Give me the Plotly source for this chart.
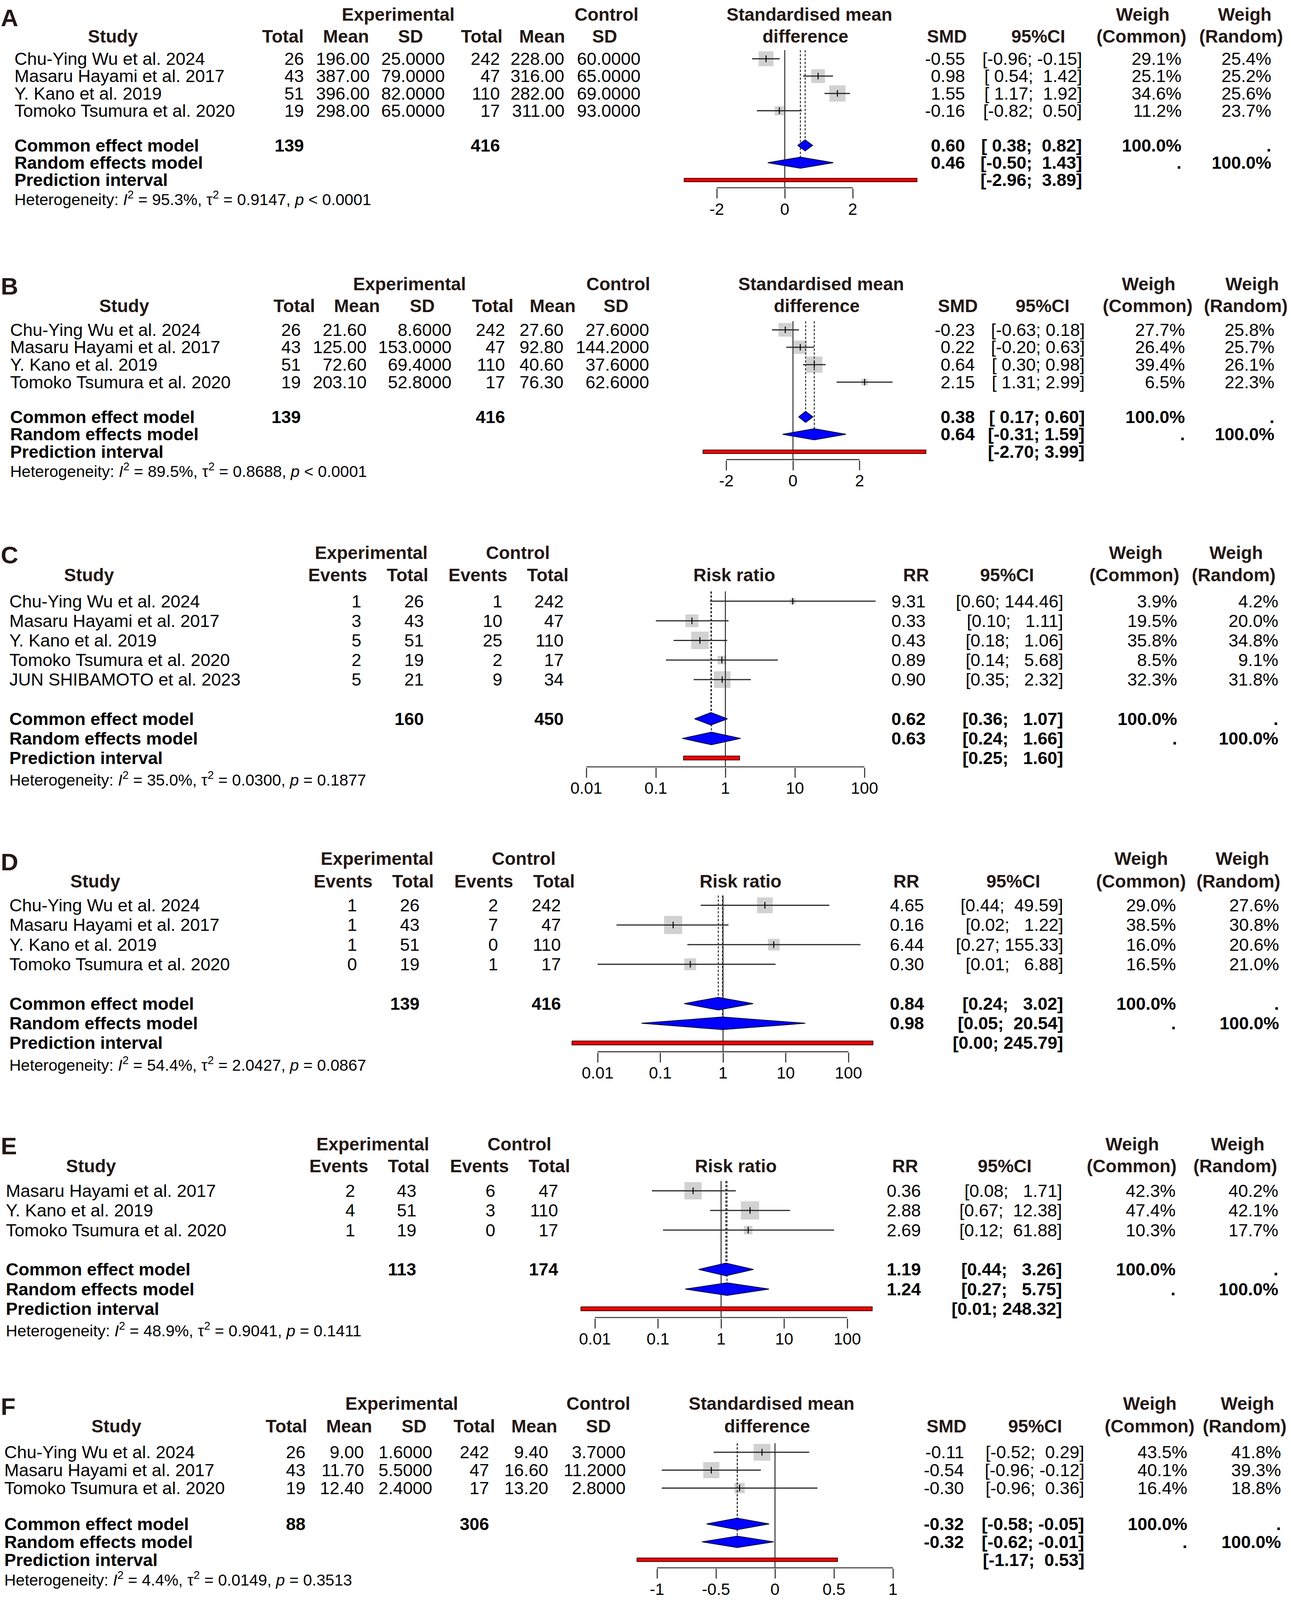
import math
import plotly.graph_objects as go

# The reference is 3305 x 5291; the browser viewport here is capped at 4096 px tall,
# so the figure keeps the reference's horizontal layout and is laid out on a
# 4096-px-tall canvas (all vertical placements are kept as fractions of the page).
W, REF_H = 3305, 5291
FIG_H = 4096
TOP_PAD = 16
BOTTOM_PAD = 14
SY = (FIG_H - TOP_PAD - BOTTOM_PAD) / REF_H

NB = "\u00a0"
FONT = "Liberation Sans"
INK = "#000000"
HEAD = "#231815"
LINEC = "#2b2b2b"
AXC = "#444444"

# ---------------- Panel A (standardised mean difference) ----------------
A_studies = ["Chu-Ying Wu et al. 2024", "Masaru Hayami et al. 2017",
             "Y. Kano et al. 2019", "Tomoko Tsumura et al. 2020"]
A_exp_total = [26, 43, 51, 19]
A_exp_mean = [196.00, 387.00, 396.00, 298.00]
A_exp_sd = [25.0, 79.0, 82.0, 65.0]
A_ctl_total = [242, 47, 110, 17]
A_ctl_mean = [228.00, 316.00, 282.00, 311.00]
A_ctl_sd = [60.0, 65.0, 69.0, 93.0]
A_est = [-0.55, 0.98, 1.55, -0.16]
A_lo = [-0.96, 0.54, 1.17, -0.82]
A_hi = [-0.15, 1.42, 1.92, 0.50]
A_w_common = [29.1, 25.1, 34.6, 11.2]
A_w_random = [25.4, 25.2, 25.6, 23.7]
A_common = [0.60, 0.38, 0.82]
A_random = [0.46, -0.50, 1.43]
A_pred = [-2.96, 3.89]
A_het = [95.3, 0.9147, "&lt; 0.0001"]

# ---------------- Panel B (standardised mean difference) ----------------
B_studies = ["Chu-Ying Wu et al. 2024", "Masaru Hayami et al. 2017",
             "Y. Kano et al. 2019", "Tomoko Tsumura et al. 2020"]
B_exp_total = [26, 43, 51, 19]
B_exp_mean = [21.60, 125.00, 72.60, 203.10]
B_exp_sd = [8.6, 153.0, 69.4, 52.8]
B_ctl_total = [242, 47, 110, 17]
B_ctl_mean = [27.60, 92.80, 40.60, 76.30]
B_ctl_sd = [27.6, 144.2, 37.6, 62.6]
B_est = [-0.23, 0.22, 0.64, 2.15]
B_lo = [-0.63, -0.20, 0.30, 1.31]
B_hi = [0.18, 0.63, 0.98, 2.99]
B_w_common = [27.7, 26.4, 39.4, 6.5]
B_w_random = [25.8, 25.7, 26.1, 22.3]
B_common = [0.38, 0.17, 0.60]
B_random = [0.64, -0.31, 1.59]
B_pred = [-2.70, 3.99]
B_het = [89.5, 0.8688, "&lt; 0.0001"]

# ---------------- Panel C (risk ratio) ----------------
C_studies = ["Chu-Ying Wu et al. 2024", "Masaru Hayami et al. 2017",
             "Y. Kano et al. 2019", "Tomoko Tsumura et al. 2020",
             "JUN SHIBAMOTO et al. 2023"]
C_exp_events = [1, 3, 5, 2, 5]
C_exp_total = [26, 43, 51, 19, 21]
C_ctl_events = [1, 10, 25, 2, 9]
C_ctl_total = [242, 47, 110, 17, 34]
C_est = [9.31, 0.33, 0.43, 0.89, 0.90]
C_lo = [0.60, 0.10, 0.18, 0.14, 0.35]
C_hi = [144.46, 1.11, 1.06, 5.68, 2.32]
C_w_common = [3.9, 19.5, 35.8, 8.5, 32.3]
C_w_random = [4.2, 20.0, 34.8, 9.1, 31.8]
C_common = [0.62, 0.36, 1.07]
C_random = [0.63, 0.24, 1.66]
C_pred = [0.25, 1.60]
C_het = [35.0, 0.0300, "= 0.1877"]

# ---------------- Panel D (risk ratio) ----------------
D_studies = ["Chu-Ying Wu et al. 2024", "Masaru Hayami et al. 2017",
             "Y. Kano et al. 2019", "Tomoko Tsumura et al. 2020"]
D_exp_events = [1, 1, 1, 0]
D_exp_total = [26, 43, 51, 19]
D_ctl_events = [2, 7, 0, 1]
D_ctl_total = [242, 47, 110, 17]
D_est = [4.65, 0.16, 6.44, 0.30]
D_lo = [0.44, 0.02, 0.27, 0.01]
D_hi = [49.59, 1.22, 155.33, 6.88]
D_w_common = [29.0, 38.5, 16.0, 16.5]
D_w_random = [27.6, 30.8, 20.6, 21.0]
D_common = [0.84, 0.24, 3.02]
D_random = [0.98, 0.05, 20.54]
D_pred = [0.0039, 245.79]
D_het = [54.4, 2.0427, "= 0.0867"]

# ---------------- Panel E (risk ratio) ----------------
E_studies = ["Masaru Hayami et al. 2017", "Y. Kano et al. 2019",
             "Tomoko Tsumura et al. 2020"]
E_exp_events = [2, 4, 1]
E_exp_total = [43, 51, 19]
E_ctl_events = [6, 3, 0]
E_ctl_total = [47, 110, 17]
E_est = [0.36, 2.88, 2.69]
E_lo = [0.08, 0.67, 0.12]
E_hi = [1.71, 12.38, 61.88]
E_w_common = [42.3, 47.4, 10.3]
E_w_random = [40.2, 42.1, 17.7]
E_common = [1.19, 0.44, 3.26]
E_random = [1.24, 0.27, 5.75]
E_pred = [0.006, 248.32]
E_het = [48.9, 0.9041, "= 0.1411"]

# ---------------- Panel F (standardised mean difference) ----------------
F_studies = ["Chu-Ying Wu et al. 2024", "Masaru Hayami et al. 2017",
             "Tomoko Tsumura et al. 2020"]
F_exp_total = [26, 43, 19]
F_exp_mean = [9.00, 11.70, 12.40]
F_exp_sd = [1.6, 5.5, 2.4]
F_ctl_total = [242, 47, 17]
F_ctl_mean = [9.40, 16.60, 13.20]
F_ctl_sd = [3.7, 11.2, 2.8]
F_est = [-0.11, -0.54, -0.30]
F_lo = [-0.52, -0.96, -0.96]
F_hi = [0.29, -0.12, 0.36]
F_w_common = [43.5, 40.1, 16.4]
F_w_random = [41.8, 39.3, 18.8]
F_common = [-0.32, -0.58, -0.05]
F_random = [-0.32, -0.62, -0.01]
F_pred = [-1.17, 0.53]
F_het = [4.4, 0.0149, "= 0.3513"]

# ---------------- axis ticks ----------------
SMD_TICKS_AB = [-2, 0, 2]
SMD_TICK_LABELS_AB = ["-2", "0", "2"]
SMD_TICKS_F = [-1, -0.5, 0, 0.5, 1]
SMD_TICK_LABELS_F = ["-1", "-0.5", "0", "0.5", "1"]
RR_TICKS = [0.01, 0.1, 1, 10, 100]
RR_TICK_LABELS = ["0.01", "0.1", "1", "10", "100"]

SMD_HEADERS = ["Total", "Mean", "SD", "Total", "Mean", "SD"]
RR_HEADERS = ["Events", "Total", "Events", "Total"]

PANELS = [
    dict(letter="A", kind="smd", studies=A_studies,
         table=[A_exp_total, A_exp_mean, A_exp_sd, A_ctl_total, A_ctl_mean, A_ctl_sd],
         est=A_est, lo=A_lo, hi=A_hi, wc=A_w_common, wr=A_w_random,
         common=A_common, random=A_random, pred=A_pred, het=A_het,
         ticks=SMD_TICKS_AB, ticklabels=SMD_TICK_LABELS_AB),
    dict(letter="B", kind="smd", studies=B_studies,
         table=[B_exp_total, B_exp_mean, B_exp_sd, B_ctl_total, B_ctl_mean, B_ctl_sd],
         est=B_est, lo=B_lo, hi=B_hi, wc=B_w_common, wr=B_w_random,
         common=B_common, random=B_random, pred=B_pred, het=B_het,
         ticks=SMD_TICKS_AB, ticklabels=SMD_TICK_LABELS_AB),
    dict(letter="C", kind="rr", studies=C_studies,
         table=[C_exp_events, C_exp_total, C_ctl_events, C_ctl_total],
         est=C_est, lo=C_lo, hi=C_hi, wc=C_w_common, wr=C_w_random,
         common=C_common, random=C_random, pred=C_pred, het=C_het,
         ticks=RR_TICKS, ticklabels=RR_TICK_LABELS),
    dict(letter="D", kind="rr", studies=D_studies,
         table=[D_exp_events, D_exp_total, D_ctl_events, D_ctl_total],
         est=D_est, lo=D_lo, hi=D_hi, wc=D_w_common, wr=D_w_random,
         common=D_common, random=D_random, pred=D_pred, het=D_het,
         ticks=RR_TICKS, ticklabels=RR_TICK_LABELS),
    dict(letter="E", kind="rr", studies=E_studies,
         table=[E_exp_events, E_exp_total, E_ctl_events, E_ctl_total],
         est=E_est, lo=E_lo, hi=E_hi, wc=E_w_common, wr=E_w_random,
         common=E_common, random=E_random, pred=E_pred, het=E_het,
         ticks=RR_TICKS, ticklabels=RR_TICK_LABELS),
    dict(letter="F", kind="smd", studies=F_studies,
         table=[F_exp_total, F_exp_mean, F_exp_sd, F_ctl_total, F_ctl_mean, F_ctl_sd],
         est=F_est, lo=F_lo, hi=F_hi, wc=F_w_common, wr=F_w_random,
         common=F_common, random=F_random, pred=F_pred, het=F_het,
         ticks=SMD_TICKS_F, ticklabels=SMD_TICK_LABELS_F),
]

# ---------------- placement (reference-page pixels) ----------------
LAYOUTS = [
    dict(y0=175, dy=57.7, h1=27, h2=100, ly=38, sx=35,
         colr=[780, 949, 1141, 1282, 1447, 1642], colh=[724, 886, 1051, 1233, 1388, 1548],
         expc=1019, ctlc=1553, studyc=289, org=2009, unit=87, dom=(1700, 2400),
         er=2473, cr=2772, wcr=3027, wrr=3257, eff1=2072, eff2=2062,
         esth=2424, cih=2658, wch=2922, wrh=3177, wg=(2925, 3186), k=8.0),
    dict(y0=1078, dy=58, h1=925, h2=998, ly=933, sx=24,
         colr=[772, 941, 1158, 1295, 1445, 1664], colh=[753, 914, 1081, 1261, 1415, 1577],
         expc=1048, ctlc=1583, studyc=318, org=2030, unit=85.3, dom=(1750, 2420),
         er=2498, cr=2779, wcr=3036, wrr=3265, eff1=2102, eff2=2091,
         esth=2452, cih=2669, wch=2938, wrh=3189, wg=(2940, 3205), k=7.5),
    dict(y0=1982, dy=65.3, h1=1820, h2=1895, ly=1827, sx=22,
         colr=[927, 1087, 1288, 1445], colh=[864, 1043, 1223, 1402],
         expc=951, ctlc=1326, studyc=228, org=1857, unit=178, dom=(1450, 2300),
         er=2372, cr=2724, wcr=3016, wrr=3275, eff1=None, eff2=1880,
         esth=2345, cih=2578, wch=2904, wrh=3158, wg=(2907, 3164), k=8.5),
    dict(y0=2995, dy=65.5, h1=2840, h2=2915, ly=2851, sx=22,
         colr=[916, 1076, 1277, 1438], colh=[878, 1057, 1238, 1418],
         expc=965, ctlc=1341, studyc=244, org=1851, unit=160.5, dom=(1420, 2300),
         er=2368, cr=2724, wcr=3013, wrr=3277, eff1=None, eff2=1896,
         esth=2320, cih=2594, wch=2921, wrh=3170, wg=(2921, 3180), k=8.5),
    dict(y0=3946, dy=65.5, h1=3790, h2=3864, ly=3797, sx=13,
         colr=[911, 1068, 1270, 1431], colh=[867, 1046, 1227, 1406],
         expc=954, ctlc=1330, studyc=233, org=1846, unit=161.5, dom=(1440, 2290),
         er=2360, cr=2721, wcr=3012, wrr=3275, eff1=None, eff2=1884,
         esth=2317, cih=2572, wch=2897, wrh=3162, wg=(2898, 3168), k=7.7),
    dict(y0=4817, dy=59.7, h1=4655, h2=4730, ly=4664, sx=9,
         colr=[784, 934, 1109, 1254, 1406, 1604], colh=[733, 894, 1060, 1214, 1368, 1532],
         expc=1028, ctlc=1532, studyc=298, org=1984, unit=302, dom=(1600, 2330),
         er=2470, cr=2778, wcr=3042, wrr=3282, eff1=1975, eff2=1964,
         esth=2423, cih=2650, wch=2943, wrh=3186, wg=(2943, 3193), k=7.4),
]

BODY = 45
HEADSZ = 46
HETSZ = 41
TICKSZ = 42
LETTERSZ = 62
SQ_SCALE = 0.88
TICKLEN = 25
DIA_H = 0.32
PI_H = 0.10

fig = go.Figure()
annotations = []
layout_axes = {}


def ann(text, xpx, ypx, anchor="left", size=BODY, bold=False, color=INK):
    if bold:
        text = "<b>%s</b>" % text
    annotations.append(dict(text=text, x=xpx / W, xref="paper", y=1 - ypx / REF_H, yref="paper",
                            xanchor=anchor, yanchor="middle", showarrow=False,
                            font=dict(family=FONT, size=size, color=color)))


def fmt_table(kind, j, v):
    if kind == "smd":
        if j in (0, 3):
            return "%d" % v
        if j in (1, 4):
            return "%.2f" % v
        return "%.4f" % v
    return "%d" % v


for i, (P, L) in enumerate(zip(PANELS, LAYOUTS)):
    s = "" if i == 0 else str(i + 1)
    xa, ya = "x" + s, "y" + s
    n = len(P["studies"])
    rows = list(range(n))
    r_com, r_ran, r_pi = n + 1, n + 2, n + 3
    ax_row = n + 3.45
    het_row = n + 4.07
    y0, dy = L["y0"], L["dy"]

    def px_of(row, y0=y0, dy=dy):
        return y0 + row * dy

    top_px = y0 - 0.75 * dy
    bot_px = y0 + ax_row * dy + 1.5 / SY
    log = P["kind"] == "rr"
    null = 1 if log else 0
    xr = [(L["dom"][0] - L["org"]) / L["unit"], (L["dom"][1] - L["org"]) / L["unit"]]

    layout_axes["xaxis" + s] = dict(
        domain=[L["dom"][0] / W, L["dom"][1] / W], range=xr,
        type="log" if log else "linear", anchor=ya,
        tickmode="array", tickvals=P["ticks"], ticktext=P["ticklabels"],
        ticks="outside", ticklen=TICKLEN, tickwidth=3, tickcolor=AXC,
        showline=False, showgrid=False, zeroline=False, fixedrange=True,
        tickfont=dict(family=FONT, size=TICKSZ, color=INK), ticklabelstandoff=-9)
    layout_axes["yaxis" + s] = dict(
        domain=[1 - bot_px / REF_H, 1 - top_px / REF_H],
        range=[(bot_px - y0) / dy, (top_px - y0) / dy],
        anchor=xa, visible=False, fixedrange=True)

    # study squares (size ~ sqrt of common-effect weight)
    fig.add_trace(go.Scatter(
        x=P["est"], y=rows, xaxis=xa, yaxis=ya, mode="markers",
        marker=dict(symbol="square",
                    size=[SQ_SCALE * L["k"] * math.sqrt(w) for w in P["wc"]],
                    color="#BEBEBE", line=dict(width=0)),
        hoverinfo="skip", showlegend=False))

    # reference lines
    fig.add_trace(go.Scatter(
        x=[null, null], y=[-0.5, ax_row], xaxis=xa, yaxis=ya, mode="lines",
        line=dict(color=LINEC, width=2.5), hoverinfo="skip", showlegend=False))
    fig.add_trace(go.Scatter(
        x=[P["common"][0], P["common"][0], None, P["random"][0], P["random"][0]],
        y=[-0.5, r_com - DIA_H, None, -0.5, r_ran - DIA_H],
        xaxis=xa, yaxis=ya, mode="lines",
        line=dict(color=LINEC, width=2.5, dash="6px,4px"),
        hoverinfo="skip", showlegend=False))

    # confidence intervals
    cx, cy = [], []
    for r, lo, hi in zip(rows, P["lo"], P["hi"]):
        cx += [lo, hi, None]
        cy += [r, r, None]
    fig.add_trace(go.Scatter(
        x=cx, y=cy, xaxis=xa, yaxis=ya, mode="lines",
        line=dict(color=LINEC, width=3), hoverinfo="skip", showlegend=False))
    fig.add_trace(go.Scatter(
        x=P["est"], y=rows, xaxis=xa, yaxis=ya, mode="markers",
        marker=dict(symbol="line-ns", size=12, color=INK,
                    line=dict(width=2.5, color=INK)),
        hoverinfo="skip", showlegend=False))

    # pooled diamonds
    for (est, lo, hi), r in [(P["common"], r_com), (P["random"], r_ran)]:
        fig.add_trace(go.Scatter(
            x=[lo, est, hi, est, lo], y=[r, r - DIA_H, r, r + DIA_H, r],
            xaxis=xa, yaxis=ya, mode="lines", fill="toself", fillcolor="#0000FF",
            line=dict(color="#000033", width=2), hoverinfo="skip", showlegend=False))

    # prediction interval
    plo, phi = P["pred"]
    fig.add_trace(go.Scatter(
        x=[plo, phi, phi, plo, plo],
        y=[r_pi - PI_H, r_pi - PI_H, r_pi + PI_H, r_pi + PI_H, r_pi - PI_H],
        xaxis=xa, yaxis=ya, mode="lines", fill="toself", fillcolor="#FF0000",
        line=dict(color="#330000", width=2), hoverinfo="skip", showlegend=False))

    # axis line
    fig.add_trace(go.Scatter(
        x=[P["ticks"][0], P["ticks"][-1]], y=[ax_row, ax_row], xaxis=xa, yaxis=ya,
        mode="lines", line=dict(color=AXC, width=3), hoverinfo="skip", showlegend=False))

    # ---------------- text ----------------
    ann(P["letter"], 0, L["ly"], "left", LETTERSZ, True, HEAD)
    h1, h2 = L["h1"], L["h2"]
    ann("Experimental", L["expc"], h1, "center", HEADSZ, True, HEAD)
    ann("Control", L["ctlc"], h1, "center", HEADSZ, True, HEAD)
    if L["eff1"] is not None:
        ann("Standardised mean", L["eff1"], h1, "center", HEADSZ, True, HEAD)
    ann("Weigh", L["wg"][0], h1, "center", HEADSZ, True, HEAD)
    ann("Weigh", L["wg"][1], h1, "center", HEADSZ, True, HEAD)
    ann("Study", L["studyc"], h2, "center", HEADSZ, True, HEAD)
    heads = SMD_HEADERS if P["kind"] == "smd" else RR_HEADERS
    for hx, ht in zip(L["colh"], heads):
        ann(ht, hx, h2, "center", HEADSZ, True, HEAD)
    ann("difference" if P["kind"] == "smd" else "Risk ratio", L["eff2"], h2,
        "center", HEADSZ, True, HEAD)
    ann("SMD" if P["kind"] == "smd" else "RR", L["esth"], h2, "center", HEADSZ, True, HEAD)
    ann("95%CI", L["cih"], h2, "center", HEADSZ, True, HEAD)
    ann("(Common)", L["wch"], h2, "center", HEADSZ, True, HEAD)
    ann("(Random)", L["wrh"], h2, "center", HEADSZ, True, HEAD)

    all_lo = P["lo"] + [P["common"][1], P["random"][1], P["pred"][0]]
    all_hi = P["hi"] + [P["common"][2], P["random"][2], P["pred"][1]]
    wlo = max(len("%.2f" % v) for v in all_lo)
    whi = max(len("%.2f" % v) for v in all_hi)

    def ci(lo, hi, wlo=wlo, whi=whi):
        return "[" + ("%.2f" % lo).rjust(wlo, NB) + ";" + NB + ("%.2f" % hi).rjust(whi, NB) + "]"

    for r in rows:
        yp = px_of(r)
        ann(P["studies"][r], L["sx"], yp, "left")
        for j, col in enumerate(P["table"]):
            ann(fmt_table(P["kind"], j, col[r]), L["colr"][j], yp, "right")
        ann("%.2f" % P["est"][r], L["er"], yp, "right")
        ann(ci(P["lo"][r], P["hi"][r]), L["cr"], yp, "right")
        ann("%.1f%%" % P["wc"][r], L["wcr"], yp, "right")
        ann("%.1f%%" % P["wr"][r], L["wrr"], yp, "right")

    # summary rows
    yp = px_of(r_com)
    ann("Common effect model", L["sx"], yp, "left", BODY, True)
    sum_cols = (0, 3) if P["kind"] == "smd" else (1, 3)
    for j in sum_cols:
        ann("%d" % sum(P["table"][j]), L["colr"][j], yp, "right", BODY, True)
    ann("%.2f" % P["common"][0], L["er"], yp, "right", BODY, True)
    ann(ci(P["common"][1], P["common"][2]), L["cr"], yp, "right", BODY, True)
    ann("100.0%", L["wcr"], yp, "right", BODY, True)
    ann(".", L["wrr"], yp, "right", BODY, True)

    yp = px_of(r_ran)
    ann("Random effects model", L["sx"], yp, "left", BODY, True)
    ann("%.2f" % P["random"][0], L["er"], yp, "right", BODY, True)
    ann(ci(P["random"][1], P["random"][2]), L["cr"], yp, "right", BODY, True)
    ann(".", L["wcr"], yp, "right", BODY, True)
    ann("100.0%", L["wrr"], yp, "right", BODY, True)

    yp = px_of(r_pi)
    ann("Prediction interval", L["sx"], yp, "left", BODY, True)
    ann(ci(P["pred"][0], P["pred"][1]), L["cr"], yp, "right", BODY, True)

    i2, tau2, pstr = P["het"]
    het = ("Heterogeneity: <i>I</i><sup>2</sup> = %.1f%%, \u03c4<sup>2</sup> = %.4f, <i>p</i> %s"
           % (i2, tau2, pstr))
    ann(het, L["sx"], px_of(het_row), "left", HETSZ)

fig.update_layout(
    width=W, height=FIG_H, margin=dict(l=0, r=0, t=TOP_PAD, b=BOTTOM_PAD, pad=0),
    paper_bgcolor="white", plot_bgcolor="rgba(0,0,0,0)",
    showlegend=False, template="none", annotations=annotations,
    **layout_axes)

fig.write_html("out.html", include_plotlyjs=True,
               config={"displayModeBar": False, "staticPlot": True},
               post_script="document.body.style.margin='0';")
